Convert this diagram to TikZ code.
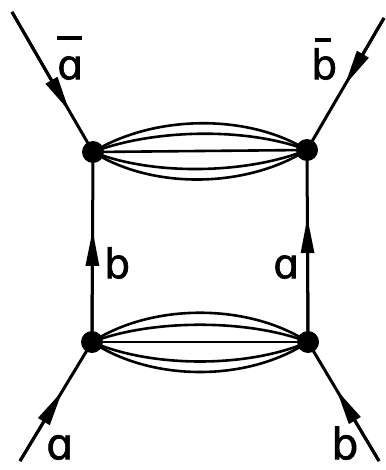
\documentclass[tikz,border=0pt]{standalone}
\usepackage{fontspec}
\setmainfont{DejaVu Sans}
\newfontfamily\labfont{DejaVu Sans}[BoldFont={*},BoldFeatures={FakeBold=1.5}]
\usetikzlibrary{arrows.meta,calc}
\begin{document}
\begin{tikzpicture}[x=1pt,y=-1pt,
  line/.style={line width=3pt},
  arr/.style={line width=3pt,-{Triangle[length=36pt,width=13pt]}},
  vtx/.style={circle,fill=black,inner sep=0pt,minimum size=22pt},
  lab/.style={font=\labfont\bfseries\fontsize{41}{44}\selectfont,inner sep=0pt,anchor=south west},
  biglab/.style={lab,font=\labfont\bfseries\fontsize{43}{46}\selectfont},
  blob/.style={line width=2.6pt}]
\useasboundingbox (0,0) rectangle (385,470);
% vertices
\node[vtx] (tl) at (93,152) {};
\node[vtx] (tr) at (307,150) {};
\node[vtx] (bl) at (92,342) {};
\node[vtx] (br) at (308,342) {};
% free ends
\coordinate (etl) at (12,12);
\coordinate (etr) at (384,18);
\coordinate (ebl) at (20,461);
\coordinate (ebr) at (379,461);
% arrow tips
\coordinate (atl) at ($(etl)!0.71!(tl.center)$);
\coordinate (atr) at ($(etr)!0.51!(tr.center)$);
\coordinate (abl) at ($(ebl)!0.59!(bl.center)$);
\coordinate (abr) at ($(ebr)!0.60!(br.center)$);
\coordinate (avl) at ($(bl.center)!0.59!(tl.center)$);
\coordinate (avr) at ($(br.center)!0.65!(tr.center)$);
% external lines
\draw[line] (etl) -- (tl.center); \draw[arr] (etl) -- (atl);
\draw[line] (etr) -- (tr.center); \draw[arr] (etr) -- (atr);
\draw[line] (ebl) -- (bl.center); \draw[arr] (ebl) -- (abl);
\draw[line] (ebr) -- (br.center); \draw[arr] (ebr) -- (abr);
% vertical lines
\draw[line] (bl.center) -- (tl.center); \draw[arr] (bl.center) -- (avl);
\draw[line] (br.center) -- (tr.center); \draw[arr] (br.center) -- (avr);
% top bundle
\draw[blob] (tl.center) .. controls +(60,-37) and +(-60,-37) .. (tr.center);
\draw[blob] (tl.center) .. controls +(60,-23) and +(-60,-23) .. (tr.center);
\draw[blob] (tl.center) -- (tr.center);
\draw[blob] (tl.center) .. controls +(60,24) and +(-60,24) .. (tr.center);
\draw[blob] (tl.center) .. controls +(60,38) and +(-60,38) .. (tr.center);
% bottom bundle
\draw[blob] (bl.center) .. controls +(60,-39) and +(-60,-39) .. (br.center);
\draw[blob] (bl.center) .. controls +(60,-23) and +(-60,-23) .. (br.center);
\draw[blob] (bl.center) -- (br.center);
\draw[blob] (bl.center) .. controls +(60,26) and +(-60,26) .. (br.center);
\draw[blob] (bl.center) .. controls +(60,40) and +(-60,40) .. (br.center);
% labels
\node[lab] (labar) at (57,80) {\shortstack[l]{\rule{25pt}{3.8pt}\\[13pt]ɑ}};
\node[lab] (lbbar) at (311,80) {\shortstack[l]{\hspace*{3.5pt}\rule{16pt}{3.8pt}\\[3pt]b}};
\node[lab] (lb) at (104,279) {b};
\node[lab] (la) at (273,279) {ɑ};
\node[biglab] (lba) at (46,460) {ɑ};
\node[biglab] (lbb) at (331,460) {b};
\end{tikzpicture}
\end{document}
